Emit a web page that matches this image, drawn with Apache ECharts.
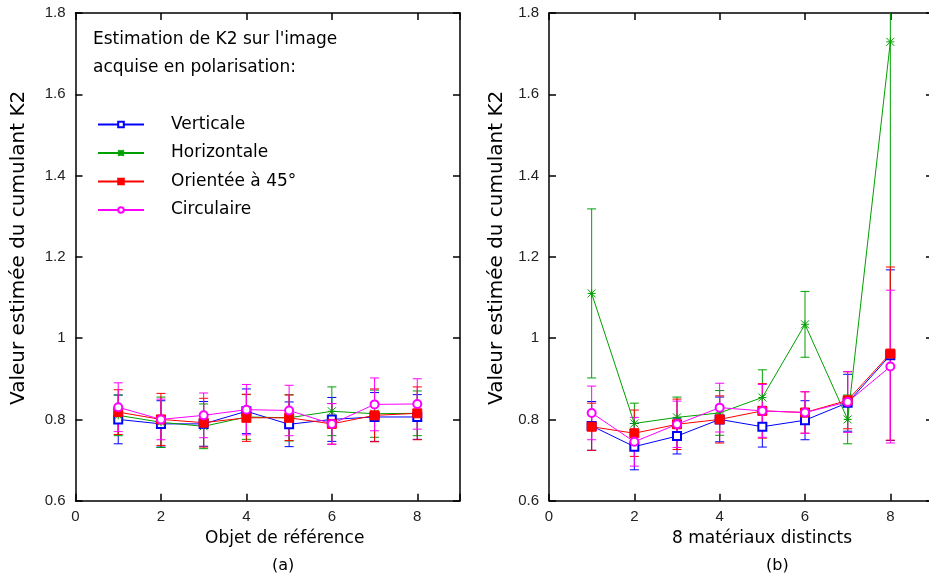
<!DOCTYPE html>
<html><head><meta charset="utf-8">
<script src="https://cdn.jsdelivr.net/npm/echarts@6/dist/echarts.min.js"></script>
<style>html,body{margin:0;padding:0;background:#fff;overflow:hidden}#c{width:940px;height:583px}</style>
</head><body><div id="c"></div><script>
// ---- data ----
const xs = [1, 2, 3, 4, 5, 6, 7, 8];
const seriesNames = ['Verticale', 'Horizontale', 'Orientée à 45°', 'Circulaire'];
const xTicks = [0, 2, 4, 6, 8];
const yTicks = [0.6, 0.8, 1.0, 1.2, 1.4, 1.6, 1.8];

// panel (a): Objet de référence
const vertA     = [0.800, 0.789, 0.789, 0.820, 0.788, 0.800, 0.806, 0.806];
const errVertA  = [0.060, 0.057, 0.055, 0.055, 0.055, 0.054, 0.060, 0.055];
const horizA    = [0.810, 0.793, 0.783, 0.806, 0.804, 0.820, 0.814, 0.815];
const errHorizA = [0.050, 0.062, 0.055, 0.055, 0.057, 0.060, 0.058, 0.055];
const orientA   = [0.818, 0.800, 0.792, 0.804, 0.804, 0.789, 0.810, 0.815];
const errOrientA= [0.055, 0.064, 0.060, 0.058, 0.056, 0.050, 0.065, 0.065];
const circA     = [0.830, 0.800, 0.810, 0.824, 0.822, 0.789, 0.837, 0.838];
const errCircA  = [0.060, 0.050, 0.055, 0.062, 0.062, 0.050, 0.065, 0.062];

// panel (b): 8 matériaux distincts
const vertB     = [0.784, 0.733, 0.759, 0.800, 0.782, 0.798, 0.841, 0.958];
const errVertB  = [0.060, 0.057, 0.044, 0.055, 0.050, 0.048, 0.070, 0.210];
const horizB    = [1.110, 0.790, 0.805, 0.816, 0.854, 1.034, 0.800, 1.729];
const errHorizB = [0.208, 0.050, 0.050, 0.055, 0.068, 0.081, 0.060, 0.760];
const orientB   = [0.782, 0.766, 0.788, 0.800, 0.821, 0.817, 0.847, 0.962];
const errOrientB= [0.058, 0.057, 0.062, 0.058, 0.067, 0.051, 0.070, 0.213];
const circB     = [0.816, 0.745, 0.788, 0.829, 0.821, 0.817, 0.843, 0.930];
const errCircB  = [0.066, 0.060, 0.057, 0.060, 0.065, 0.051, 0.075, 0.188];

// ---- styles ----
const colors = ['#0000ff', '#00a000', '#ff0000', '#ff00ff'];
const symbols = ['emptyRect', 'path://M0,0L10,10M10,0L0,10M5,0L5,10M0,5L10,5', 'rect', 'emptyCircle'];
const symSizes = [8, 8, 9, 8];
const tickFont = 'Liberation Sans';
const textFont = 'DejaVu Sans';

const chart = echarts.init(document.getElementById('c'), null, {renderer: 'canvas'});

function xAxisPair(grid, title, titlePad) {
  const base = {type: 'value', gridIndex: grid, min: 0, max: 9, interval: 2,
    splitLine: {show: false}, axisLine: {show: true, onZero: false, lineStyle: {color: '#000', width: 1.5}},
    axisTick: {show: true, inside: true, length: 7, lineStyle: {color: '#000', width: 1.5}}};
  return [
    Object.assign({}, base, {position: 'bottom',
      axisLabel: {show: true, margin: 9, color: '#222', fontSize: 15, fontFamily: tickFont,
        formatter: v => xTicks.indexOf(v) >= 0 ? String(v) : ''},
      name: title, nameLocation: 'middle', nameGap: 28,
      nameTextStyle: {fontSize: 17, fontFamily: textFont, color: '#000', padding: titlePad}}),
    Object.assign({}, base, {position: 'top', axisLabel: {show: false}})
  ];
}
function yAxisPair(grid, gap) {
  const base = {type: 'value', gridIndex: grid, min: 0.6, max: 1.8, interval: 0.2,
    splitLine: {show: false}, axisLine: {show: true, onZero: false, lineStyle: {color: '#000', width: 1.5}},
    axisTick: {show: true, inside: true, length: 7, lineStyle: {color: '#000', width: 1.5}}};
  return [
    Object.assign({}, base, {position: 'left',
      axisLabel: {show: true, margin: 10, color: '#222', fontSize: 15, fontFamily: tickFont,
        formatter: v => { const r = Math.round(v * 10) / 10; return yTicks.some(t => Math.abs(t - r) < 1e-9) ? String(r) : ''; }},
      name: 'Valeur estimée du cumulant K2', nameLocation: 'middle', nameGap: gap, nameRotate: 90,
      nameTextStyle: {fontSize: 20, fontFamily: textFont, color: '#000', padding: [0, 0, 0, 18]}}),
    Object.assign({}, base, {position: 'right', axisLabel: {show: false}})
  ];
}

function errSeries(axIdx, vals, errs, color) {
  return {
    type: 'custom', xAxisIndex: axIdx, yAxisIndex: axIdx, silent: true,
    data: xs.map((x, i) => [x, vals[i] - errs[i], vals[i] + errs[i]]),
    renderItem(params, api) {
      const x = api.value(0);
      const pLo = api.coord([x, api.value(1)]);
      const pHi = api.coord([x, api.value(2)]);
      const cs = params.coordSys;
      const top = cs.y, bot = cs.y + cs.height;
      const y1 = Math.max(pHi[1], top), y2 = Math.min(pLo[1], bot);
      const st = {stroke: color, lineWidth: 1};
      const ch = [{type: 'line', shape: {x1: pLo[0], y1: y1, x2: pLo[0], y2: y2}, style: st}];
      const w = 4.5;
      if (pHi[1] >= top) ch.push({type: 'line', shape: {x1: pHi[0] - w, y1: pHi[1], x2: pHi[0] + w, y2: pHi[1]}, style: st});
      if (pLo[1] <= bot) ch.push({type: 'line', shape: {x1: pLo[0] - w, y1: pLo[1], x2: pLo[0] + w, y2: pLo[1]}, style: st});
      return {type: 'group', children: ch};
    }
  };
}
function lineSeries(axIdx, k, vals) {
  return {
    type: 'line', name: seriesNames[k], xAxisIndex: axIdx, yAxisIndex: axIdx,
    data: xs.map((x, i) => [x, vals[i]]),
    symbol: symbols[k], symbolSize: symSizes[k], showSymbol: true, showAllSymbol: true,
    lineStyle: {color: colors[k], width: 1},
    itemStyle: {color: colors[k], borderColor: colors[k], borderWidth: 1},
    emphasis: {disabled: true}
  };
}

const panels = [
  {ax: 0, vals: [vertA, horizA, orientA, circA], errs: [errVertA, errHorizA, errOrientA, errCircA]},
  {ax: 2, vals: [vertB, horizB, orientB, circB], errs: [errVertB, errHorizB, errOrientB, errCircB]}
];
const series = [];
panels.forEach(p => {
  for (let k = 0; k < 4; k++) {
    series.push(errSeries(p.ax, p.vals[k], p.errs[k], colors[k]));
    series.push(lineSeries(p.ax, k, p.vals[k]));
  }
});

const option = {
  animation: false,
  backgroundColor: '#fff',
  grid: [
    {left: 75.5, top: 13, width: 384.5, height: 487.7, show: false, containLabel: false, outerBoundsMode: 'none'},
    {left: 549, top: 13, width: 384, height: 487.7, show: false, containLabel: false, outerBoundsMode: 'none'}
  ],
  xAxis: [].concat(xAxisPair(0, 'Objet de référence', [0, 0, 0, 34]), xAxisPair(1, '8 matériaux distincts', [0, 0, 0, 42])),
  yAxis: [].concat(yAxisPair(0, 47), yAxisPair(1, 42)),
  title: {
    text: "Estimation de K2 sur l'image\nacquise en polarisation:",
    left: 93, top: 26, padding: 0,
    textStyle: {fontSize: 17, fontWeight: 'normal', fontFamily: textFont, color: '#000', lineHeight: 28}
  },
  legend: {
    data: seriesNames, orient: 'vertical', left: 97, top: 116, padding: 0,
    itemWidth: 46, itemHeight: 7, itemGap: 11.5, selectedMode: false,
    textStyle: {fontSize: 17, fontFamily: textFont, color: '#000', padding: [0, 0, 0, 22]}
  },
  graphic: [
    {type: 'text', left: 272, top: 558, style: {text: '(a)', fontSize: 16, fontFamily: textFont, fill: '#000'}},
    {type: 'text', left: 766, top: 558, style: {text: '(b)', fontSize: 16, fontFamily: textFont, fill: '#000'}}
  ],
  series: series
};
chart.setOption(option);
</script></body></html>
